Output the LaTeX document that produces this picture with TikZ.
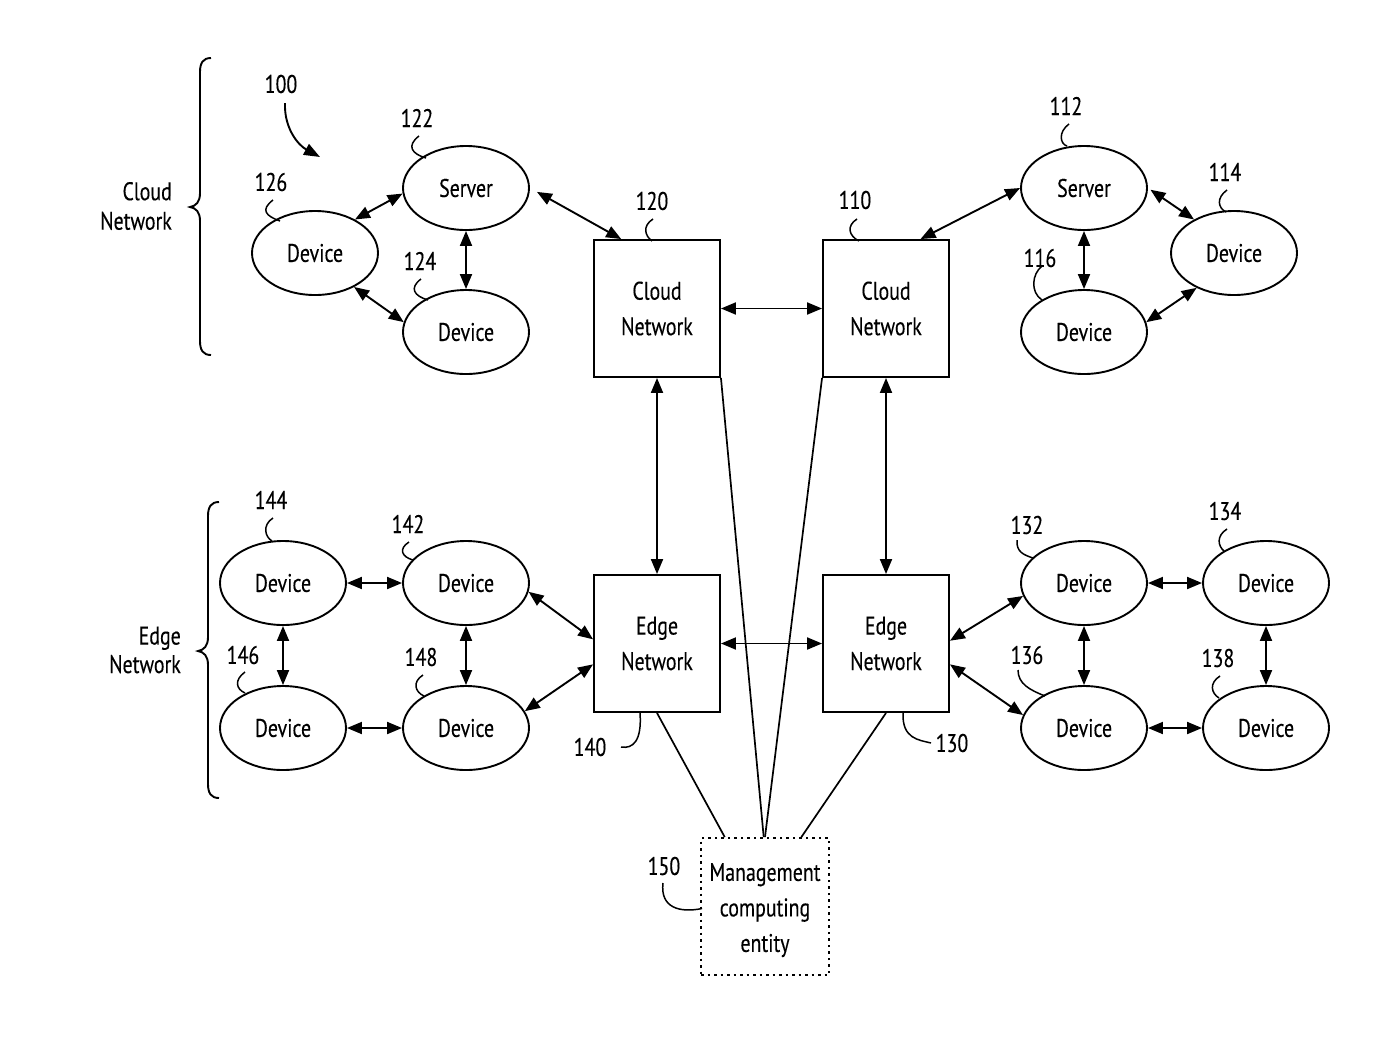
\documentclass[tikz,border=0pt]{standalone}
\usepackage{fontspec}
\setmainfont[FakeStretch=0.78,FakeBold=0.25]{PT Sans}
\usetikzlibrary{shapes.geometric,arrows.meta,calc}
\begin{document}
\begin{tikzpicture}[x=1pt,y=-1pt,
  every node/.style={font=\fontsize{25.5}{35.5}\selectfont},
  dev/.style={draw,line width=1.9pt,ellipse,minimum width=126pt,minimum height=84pt,inner sep=0pt},
  netbox/.style={draw,line width=1.9pt,rectangle,minimum width=126pt,minimum height=137pt,align=center,inner sep=0pt},
  mgmt/.style={draw,line width=1.9pt,dash pattern=on 2.5pt off 4pt,rectangle,minimum width=128pt,minimum height=137pt,align=center,inner sep=0pt},
  lbl/.style={inner sep=0pt},
  conn/.style={line width=1.9pt,{Triangle[length=15pt,width=12pt]}-{Triangle[length=15pt,width=12pt]}},
  plain/.style={line width=1.7pt},
  leader/.style={line width=1.5pt},
  brace/.style={line width=1.9pt}
]
\useasboundingbox (0,0) rectangle (1400,1045);

% top-left cluster
\node[dev] (s122) at (466,188) {Server};
\node[dev] (d126) at (315,253) {Device};
\node[dev] (d124) at (466,332) {Device};
% top-right cluster
\node[dev] (s112) at (1084,188) {Server};
\node[dev] (d114) at (1234,253) {Device};
\node[dev] (d116) at (1084,332) {Device};
% boxes
\node[netbox] (c120) at (657,308.5) {Cloud\\Network};
\node[netbox] (c110) at (886,308.5) {Cloud\\Network};
\node[netbox] (e140) at (657,643.5) {Edge\\Network};
\node[netbox] (e130) at (886,643.5) {Edge\\Network};
\node[mgmt] (m150) at (765,906.5) {\rule{0pt}{25pt}Management\\computing\\entity};
% bottom-left
\node[dev] (d144) at (283,583) {Device};
\node[dev] (d142) at (466,583) {Device};
\node[dev] (d146) at (283,728) {Device};
\node[dev] (d148) at (466,728) {Device};
% bottom-right
\node[dev] (d132) at (1084,583) {Device};
\node[dev] (d134) at (1266,583) {Device};
\node[dev] (d136) at (1084,728) {Device};
\node[dev] (d138) at (1266,728) {Device};

% connectors top
\draw[conn] (d126.40) -- (s122.185);
\draw[conn] (d126.-41) -- (d124.171);
\draw[conn] (s122.south) -- (d124.north);
\draw[conn,shorten <=8pt] (s122.east) -- ($(c120.north west)!0.22!(c120.north east)$);
\draw[conn] (c120.east) -- (c110.west);
\draw[conn] ($(c110.north west)!0.77!(c110.north east)$) -- (s112.west);
\draw[conn,shorten <=3pt] (s112.east) -- (d114.140);
\draw[conn] (s112.south) -- (d116.north);
\draw[conn] (d114.223) -- (d116.9);
\draw[conn] (c120.south) -- (e140.north);
\draw[conn] (c110.south) -- (e130.north);
\draw[conn] (e140.east) -- (e130.west);
% bottom-left
\draw[conn] (d144.east) -- (d142.west);
\draw[conn] (d146.east) -- (d148.west);
\draw[conn] (d144.south) -- (d146.north);
\draw[conn] (d142.south) -- (d148.north);
\draw[conn] (d142.-8) -- ($(e140.north west)!0.47!(e140.south west)$);
\draw[conn] (d148.16) -- ($(e140.north west)!0.65!(e140.south west)$);
% bottom-right
\draw[conn] (d132.east) -- (d134.west);
\draw[conn] (d136.east) -- (d138.west);
\draw[conn] (d132.south) -- (d136.north);
\draw[conn] (d134.south) -- (d138.north);
\draw[conn] ($(e130.north east)!0.48!(e130.south east)$) -- (d132.192);
\draw[conn] ($(e130.north east)!0.65!(e130.south east)$) -- (d136.168);

% management lines
\draw[plain] (e140.south) -- ($(m150.north west)!0.19!(m150.north east)$);
\draw[plain] (c120.south east) -- ($(m150.north west)!0.49!(m150.north east)$);
\draw[plain] (c110.south west) -- ($(m150.north west)!0.50!(m150.north east)$);
\draw[plain] (e130.south) -- ($(m150.north west)!0.78!(m150.north east)$);

% reference labels
\node[lbl] (l100) at (281,84) {100};
\coordinate (a100) at (320,157);
\draw[line width=1.9pt,-{Triangle[length=16pt,width=12pt]}] (285,103) .. controls (284,128) and (298,145) .. (a100);
\node[lbl] (l122) at (417,118) {122};
\draw[leader] (419,136) .. controls (406,146) and (412,154) .. (426,158);
\node[lbl] (l126) at (271,182) {126};
\draw[leader] (273,200) .. controls (260,210) and (266,216) .. (280,221);
\node[lbl] (l124) at (420,261) {124};
\draw[leader] (421,279) .. controls (409,288) and (414,296) .. (428,300);
\node[lbl] (l120) at (652,201) {120};
\draw[leader] (653,219) .. controls (642,226) and (645,236) .. (652,241);
\node[lbl] (l110) at (855,200) {110};
\draw[leader] (857,219) .. controls (846,226) and (849,236) .. (859,241);
\node[lbl] (l112) at (1066,106) {112};
\draw[leader] (1069,124) .. controls (1058,132) and (1060,144) .. (1067,146);
\node[lbl] (l114) at (1225,172) {114};
\draw[leader] (1227,190) .. controls (1216,198) and (1218,208) .. (1226,212);
\node[lbl] (l116) at (1040,258) {116};
\draw[leader] (1042,266) .. controls (1032,274) and (1030,292) .. (1042,300);
\node[lbl] (l144) at (271,500) {144};
\draw[leader] (273,518) .. controls (262,525) and (265,537) .. (272,541);
\node[lbl] (l142) at (408,524) {142};
\draw[leader] (409,542) .. controls (398,549) and (402,557) .. (413,560);
\node[lbl] (l146) at (243,655) {146};
\draw[leader] (245,672) .. controls (234,680) and (236,689) .. (245,693);
\node[lbl] (l148) at (421,657) {148};
\draw[leader] (423,675) .. controls (412,682) and (415,692) .. (424,696);
\node[lbl] (l132) at (1027,525) {132};
\draw[leader] (1017,540) .. controls (1016,552) and (1024,555) .. (1033,558);
\node[lbl] (l134) at (1225,511) {134};
\draw[leader] (1227,529) .. controls (1216,536) and (1218,546) .. (1224,551);
\node[lbl] (l136) at (1027,655) {136};
\draw[leader] (1018,670) .. controls (1018,684) and (1030,690) .. (1045,696);
\node[lbl] (l138) at (1218,658) {138};
\draw[leader] (1220,676) .. controls (1209,683) and (1211,693) .. (1219,698);
\node[lbl] (l140) at (590,747) {140};
\draw[leader] (e140.south) ++(-17,0) .. controls +(2,28) and +(12,2) .. (621,747);
\node[lbl] (l130) at (952,743) {130};
\draw[leader] (e130.south) ++(17,0) .. controls +(-1,26) and +(-12,-3) .. (931,743);
\node[lbl] (l150) at (664,866) {150};
\draw[leader] (m150.west) ++(2,2) .. controls (680,913) and (660,908) .. (663,883);

% braces
\draw[brace] (211,58) .. controls (203,58) and (200,63) .. (200,72) -- (200,193) .. controls (200,202) and (196,206) .. (190,207) .. controls (196,208) and (200,212) .. (200,221) -- (200,341) .. controls (200,350) and (203,355) .. (211,355);
\node[lbl,align=right,anchor=east] (cloudlbl) at (172,206) {Cloud\\[-6pt]Network};
\draw[brace] (219,502) .. controls (211,502) and (208,507) .. (208,516) -- (208,637) .. controls (208,646) and (204,650) .. (198,651) .. controls (204,652) and (208,656) .. (208,665) -- (208,784) .. controls (208,793) and (211,798) .. (219,798);
\node[lbl,align=right,anchor=east] (edgelbl) at (181,650) {Edge\\[-7pt]Network};
\end{tikzpicture}
\end{document}
